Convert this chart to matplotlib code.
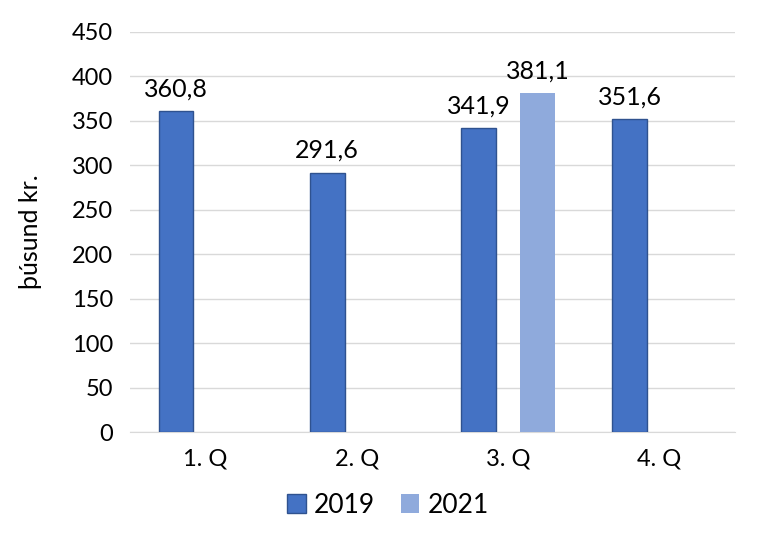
import numpy as np
import matplotlib.pyplot as plt

# Data
quarters = ['1. Q', '2. Q', '3. Q', '4. Q']
values_2019 = [360.8, 291.6, 341.9, 351.6]
values_2021 = [None, None, 381.1, None]
y_ticks = [0, 50, 100, 150, 200, 250, 300, 350, 400, 450]

plt.rcParams['font.family'] = ['Lato', 'DejaVu Sans']

fig = plt.figure(figsize=(7.68, 5.49), dpi=100)
ax = fig.add_axes([0.169, 0.213, 0.788, 0.729])

x = np.arange(len(quarters))
width = 0.23
offset = 0.195

def fmt(v):
    return f'{v:.1f}'.replace('.', ',')

for i, v in enumerate(values_2019):
    ax.bar(x[i] - offset, v, width, color='#4472c4', edgecolor='#2f528f',
           linewidth=1.0, zorder=3, label='2019' if i == 0 else None)
    ax.text(x[i] - offset, v + 12, fmt(v), ha='center', va='bottom', fontsize=18)

for i, v in enumerate(values_2021):
    if v is None:
        continue
    ax.bar(x[i] + offset, v, width, color='#8faadc', zorder=3, label='2021')
    ax.text(x[i] + offset, v + 12, fmt(v), ha='center', va='bottom', fontsize=18)

ax.set_xlim(-0.5, len(quarters) - 0.5)
ax.set_ylim(0, 450)
ax.set_yticks(y_ticks)
ax.set_xticks(x)
ax.set_xticklabels(quarters, fontsize=17)
ax.tick_params(axis='y', labelsize=17, length=0, pad=12)
ax.tick_params(axis='x', length=0, pad=12)
ax.grid(axis='y', color='#d9d9d9', linewidth=1, zorder=0)
for s in ['top', 'right', 'left']:
    ax.spines[s].set_visible(False)
ax.spines['bottom'].set_color('#d9d9d9')
ax.set_ylabel('þúsund kr.', fontsize=18)
ax.yaxis.set_label_coords(-0.145, 0.5)

fig.legend(*ax.get_legend_handles_labels(), loc='center',
           bbox_to_anchor=(0.505, 0.08), ncol=2, frameon=False,
           fontsize=19, handlelength=0.7, handleheight=0.7, handletextpad=0.3,
           columnspacing=1.0)

fig.savefig('out.png', dpi=100)
